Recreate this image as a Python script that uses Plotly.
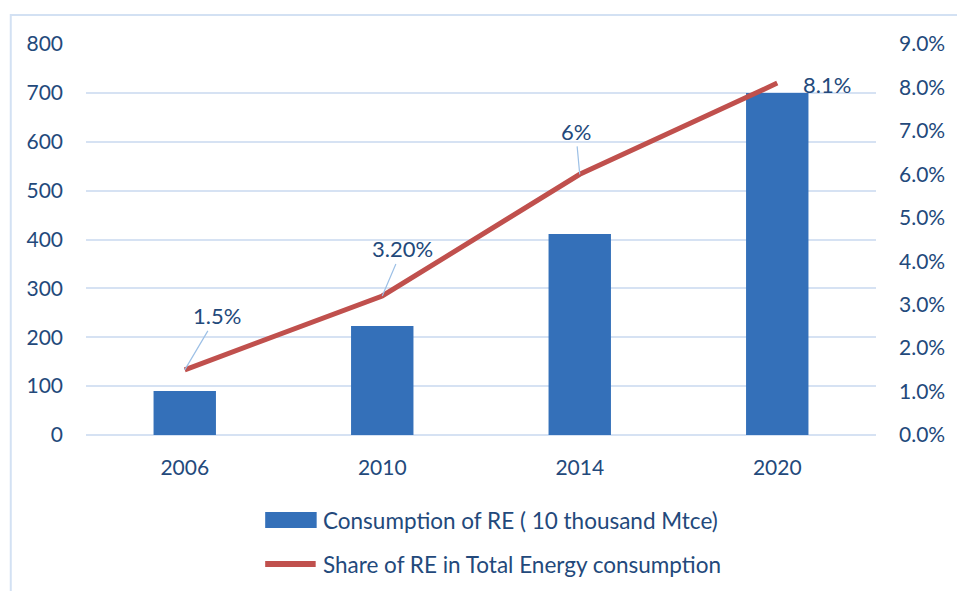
import plotly.graph_objects as go

# Renewable energy consumption and its share of total energy use
years = ["2006", "2010", "2014", "2020"]
consumption = [90, 223, 411, 700]          # 10 thousand Mtce
share = [0.015, 0.032, 0.060, 0.081]       # fraction of total energy consumption
share_labels = ["1.5%", "3.20%", "6%", "8.1%"]
left_ticks = [0, 100, 200, 300, 400, 500, 600, 700, 800]
right_ticks = [0.00, 0.01, 0.02, 0.03, 0.04, 0.05, 0.06, 0.07, 0.08, 0.09]

bar_name = "Consumption of RE ( 10 thousand Mtce)"
line_name = "Share of RE in Total Energy consumption"

W, H = 957, 591
ML, MR, MT, MB = 86, 73, 44, 156
PW, PH = W - ML - MR, H - MT - MB

def px_x(px):
    return (px - ML) / PW

def px_y(py):
    return (H - MB - py) / PH

TEXT = "#23497b"
GRID = "#d6e2f3"
BAR = "#3470b9"
LINE = "#c0504d"
FONT = "Lato"

fig = go.Figure()

fig.add_trace(go.Bar(
    x=years, y=consumption, name=bar_name,
    marker=dict(color=BAR, line=dict(width=0)),
    showlegend=False,
))

fig.add_trace(go.Scatter(
    x=years, y=share, name=line_name, yaxis="y2", mode="lines",
    line=dict(color=LINE, width=5),
    showlegend=False,
))

# value labels on the share line, with leader lines for the first three
offsets = [(32, -54), (20, -47), (-4, -43)]
for i, (val, lab) in enumerate(zip(share, share_labels)):
    if i < 3:
        ax, ay = offsets[i]
        fig.add_annotation(
            x=i, y=val, xref="x", yref="y2", text=lab,
            showarrow=True, arrowhead=0, arrowwidth=1.2, arrowcolor="#9dc0e6",
            ax=ax, ay=ay, axref="pixel", ayref="pixel", standoff=0,
            font=dict(family=FONT, size=22, color=TEXT),
        )
    else:
        fig.add_annotation(
            x=i, y=val, xref="x", yref="y2", text=lab,
            showarrow=False, xshift=50, yshift=-1,
            font=dict(family=FONT, size=22, color=TEXT),
        )

# legend drawn as swatches plus text
fig.add_shape(type="rect", xref="paper", yref="paper",
              x0=px_x(267), x1=px_x(319), y0=px_y(528), y1=px_y(512),
              fillcolor=BAR, line=dict(width=0))
fig.add_shape(type="line", xref="paper", yref="paper",
              x0=px_x(267), x1=px_x(318), y0=px_y(564), y1=px_y(564),
              line=dict(color=LINE, width=6))
for name, py in [(bar_name, 520), (line_name, 564)]:
    fig.add_annotation(
        x=px_x(323), y=px_y(py), xref="paper", yref="paper",
        xanchor="left", yanchor="middle", showarrow=False, text=name,
        font=dict(family=FONT, size=22.5, color=TEXT),
    )

# chart frame
fig.add_shape(type="rect", xref="paper", yref="paper",
              x0=px_x(10), x1=px_x(1000), y0=px_y(640), y1=px_y(15),
              line=dict(color="#d3e1f3", width=2), fillcolor="rgba(0,0,0,0)",
              layer="below")

fig.update_layout(
    width=W, height=H,
    margin=dict(l=ML, r=MR, t=MT, b=MB),
    paper_bgcolor="white", plot_bgcolor="white",
    bargap=0.684,
    font=dict(family=FONT, size=21, color=TEXT),
    xaxis=dict(
        type="category", range=[-0.5, 3.5], showgrid=False, showline=False,
        ticks="", ticklabelstandoff=18,
        tickfont=dict(family=FONT, size=21, color=TEXT),
    ),
    yaxis=dict(
        range=[0, 800], tickvals=left_ticks, showgrid=True,
        gridcolor=GRID, gridwidth=1.5, zeroline=True, zerolinecolor=GRID,
        zerolinewidth=1.5, showline=False, ticks="", ticklabelstandoff=22,
        tickfont=dict(family=FONT, size=21, color=TEXT),
    ),
    yaxis2=dict(
        range=[0, 0.09], tickvals=right_ticks, tickformat=".1%",
        overlaying="y", side="right", showgrid=False, zeroline=False,
        showline=False, ticks="", ticklabelstandoff=22,
        tickfont=dict(family=FONT, size=21, color=TEXT),
    ),
    showlegend=False,
)

fig.write_html("out.html")
